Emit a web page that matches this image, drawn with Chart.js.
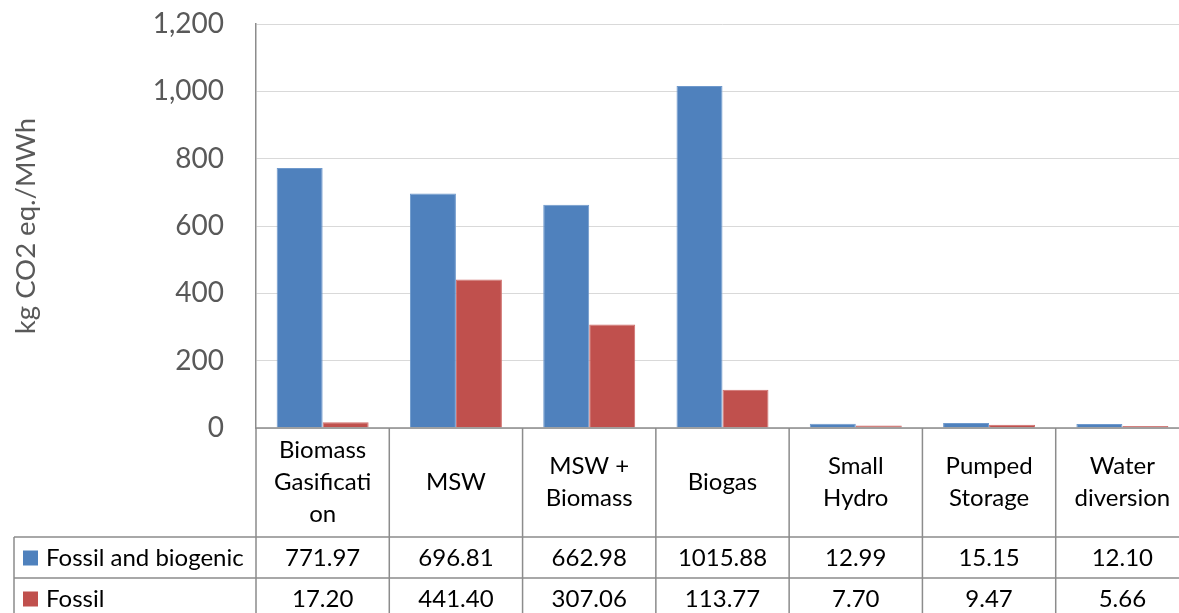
<!DOCTYPE html>
<html>
<head>
<meta charset="utf-8">
<script src="https://cdn.jsdelivr.net/npm/chart.js@4"></script>
<style>
  html, body { margin: 0; padding: 0; background: #fff; overflow: hidden; }
  #wrap { position: relative; width: 1189px; height: 613px; }
</style>
</head>
<body>
<div id="wrap"><canvas id="c"></canvas></div>
<script>
// ---- data ----
const categories = [
  ["Biomass", "Gasificati", "on"],
  ["MSW"],
  ["MSW +", "Biomass"],
  ["Biogas"],
  ["Small", "Hydro"],
  ["Pumped", "Storage"],
  ["Water", "diversion"]
];
const seriesNames = ["Fossil and biogenic", "Fossil"];
const fossilAndBiogenic = [771.97, 696.81, 662.98, 1015.88, 12.99, 15.15, 12.10];
const fossil = [17.20, 441.40, 307.06, 113.77, 7.70, 9.47, 5.66];
const yTicks = [0, 200, 400, 600, 800, 1000, 1200];
const yTitle = "kg CO2 eq./MWh";

const colors = ["#4F81BD", "#C0504D"];
const borders = ["#6f99cc", "#cf6e6b"];
const lineColor = "#8c8c8c";
const FONT = "Lato, 'Open Sans', sans-serif";

const tablePlugin = {
  id: 'dataTable',
  afterDraw(chart) {
    const ctx = chart.ctx;
    const x = chart.scales.x;
    const area = chart.chartArea;
    const n = categories.length;
    const cw = (area.right - area.left) / n;
    const top = area.bottom;
    const headerBottom = top + 109;
    const rowH = 41;
    const row1Bottom = headerBottom + rowH;
    const row2Bottom = row1Bottom + rowH;
    const tableLeft = 14;
    const W = chart.width;

    ctx.save();
    ctx.strokeStyle = lineColor;
    ctx.lineWidth = 1.5;
    ctx.beginPath();
    ctx.moveTo(area.left, top); ctx.lineTo(W, top);
    ctx.moveTo(tableLeft, headerBottom); ctx.lineTo(W, headerBottom);
    ctx.moveTo(tableLeft, row1Bottom); ctx.lineTo(W, row1Bottom);
    ctx.moveTo(tableLeft, row2Bottom); ctx.lineTo(W, row2Bottom);
    ctx.moveTo(tableLeft, headerBottom); ctx.lineTo(tableLeft, row2Bottom);
    for (let i = 0; i <= n; i++) {
      const cx = x.getPixelForValue(i) - cw / 2;
      ctx.moveTo(cx, top); ctx.lineTo(cx, row2Bottom);
    }
    ctx.stroke();

    ctx.fillStyle = "#000";
    ctx.font = "24px " + FONT;
    ctx.textAlign = "center";
    ctx.textBaseline = "middle";
    const headerMid = (top + headerBottom) / 2;
    const lh = 32;
    categories.forEach((lines, i) => {
      const cx = x.getPixelForValue(i);
      const start = headerMid - (lines.length - 1) * lh / 2;
      lines.forEach((ln, j) => ctx.fillText(ln, cx, start + j * lh));
    });

    const rows = [fossilAndBiogenic, fossil];
    const rowMids = [(headerBottom + row1Bottom) / 2, (row1Bottom + row2Bottom) / 2];
    rows.forEach((vals, r) => {
      const ym = rowMids[r];
      vals.forEach((v, i) => {
        ctx.textAlign = "center";
        ctx.fillStyle = "#000";
        ctx.fillText(v.toFixed(2), x.getPixelForValue(i), ym + 1);
      });
      ctx.fillStyle = colors[r];
      ctx.fillRect(23, ym - 7, 15, 15);
      ctx.fillStyle = "#000";
      ctx.textAlign = "left";
      ctx.fillText(seriesNames[r], 46, ym + 1);
    });
    ctx.restore();
  }
};

new Chart(document.getElementById('c'), {
  type: 'bar',
  data: {
    labels: categories.map(c => c.join(' ')),
    datasets: [
      { label: seriesNames[0], data: fossilAndBiogenic, backgroundColor: colors[0], borderColor: borders[0], borderWidth: 1 },
      { label: seriesNames[1], data: fossil, backgroundColor: colors[1], borderColor: borders[1], borderWidth: 1 }
    ]
  },
  options: {
    responsive: true,
    maintainAspectRatio: false,
    animation: false,
    layout: { padding: { top: 0, left: 0, right: 0, bottom: 185 } },
    datasets: { bar: { categoryPercentage: 0.69, barPercentage: 1.0 } },
    plugins: { legend: { display: false }, tooltip: { enabled: false } },
    scales: {
      x: { display: false },
      y: {
        min: 0, max: 1200,
        afterBuildTicks(scale) { scale.ticks = yTicks.map(v => ({ value: v })); },
        afterFit(scale) { scale.width = 256; scale.paddingTop = 24; scale.paddingBottom = 0; },
        ticks: {
          padding: 32,
          color: "#595959",
          font: { family: FONT, size: 28 },
          callback: v => v.toLocaleString('en-US')
        },
        grid: { color: "#d9d9d9", lineWidth: 1, drawTicks: false, tickLength: 0 },
        border: { display: true, color: lineColor, width: 1.5 },
        title: {
          display: true, text: yTitle, color: "#595959",
          font: { family: FONT, size: 27.5 }, padding: { top: 10, bottom: 0 }
        }
      }
    }
  },
  plugins: [tablePlugin]
});
</script>
</body>
</html>
